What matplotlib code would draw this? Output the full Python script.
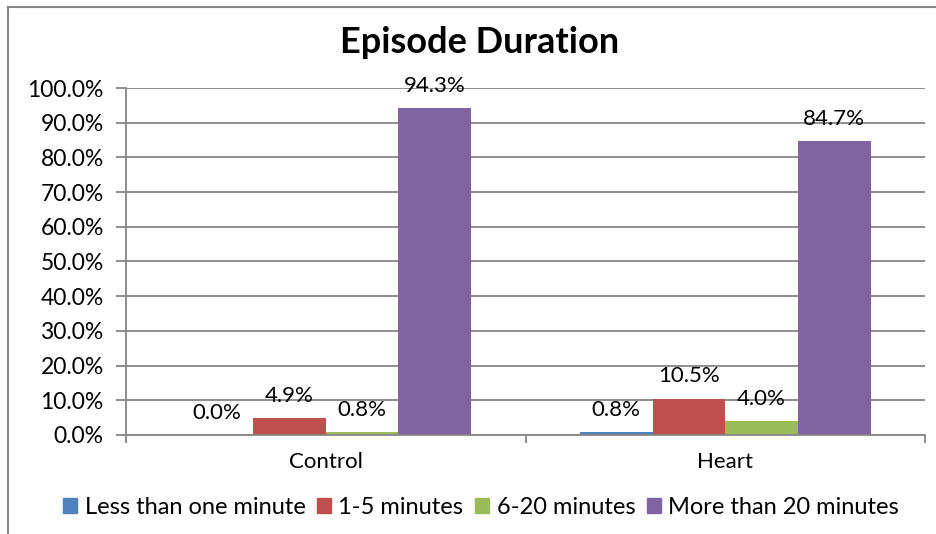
import matplotlib.pyplot as plt
import numpy as np
from matplotlib.lines import Line2D
from matplotlib.patches import Patch

# Episode duration by group, share of episodes (%)
groups = ["Control", "Heart"]
series = ["Less than one minute", "1-5 minutes", "6-20 minutes", "More than 20 minutes"]
less_than_one = [0.0, 0.8]
one_to_five = [4.9, 10.5]
six_to_twenty = [0.8, 4.0]
more_than_twenty = [94.3, 84.7]
colors = ["#4F81BD", "#C0504D", "#9BBB59", "#8064A2"]

plt.rcParams['font.family'] = ['Lato', 'DejaVu Sans']

fig = plt.figure(figsize=(9.36, 5.34), dpi=100)
ax = fig.add_axes([0.1346, 0.1854, 0.8537, 0.6498])

# outer chart frame (top + left, like the cropped Excel screenshot)
fig.add_artist(Line2D([8 / 936, 1.0], [1 - 6.5 / 534, 1 - 6.5 / 534],
                      transform=fig.transFigure, color="#868686", lw=1.5))
fig.add_artist(Line2D([8 / 936, 8 / 936], [0.0, 1 - 6.5 / 534],
                      transform=fig.transFigure, color="#868686", lw=1.5))

x = np.arange(len(groups))
width = 1 / 5.5
values = [less_than_one, one_to_five, six_to_twenty, more_than_twenty]
for i, (vals, name, c) in enumerate(zip(values, series, colors)):
    pos = x + (i - 1.5) * width
    ax.bar(pos, vals, width, color=c, label=name, zorder=3)
    for p, v in zip(pos, vals):
        ax.annotate(f"{v:.1f}%", (p, v), xytext=(0, 16), textcoords="offset points",
                    ha="center", va="center", fontsize=16, zorder=4)

ax.set_xlim(-0.5, 1.5)
ax.set_ylim(0, 100)
ax.set_yticks(np.arange(0, 101, 10))
ax.set_yticklabels([f"{t:.1f}%" for t in np.arange(0, 101, 10)], fontsize=16.5)
ax.yaxis.grid(True, color="#868686", lw=1.3, zorder=0)
ax.set_xticks(x)
ax.set_xticklabels(groups, fontsize=16)
ax.set_xticks([-0.5, 0.5, 1.5], minor=True)
ax.tick_params(axis="x", which="major", length=0, pad=12)
ax.tick_params(axis="x", which="minor", length=6, color="#868686", width=1.3)
ax.tick_params(axis="y", length=7, color="#868686", width=1.3, pad=9)
for s in ["top", "right"]:
    ax.spines[s].set_visible(False)
ax.spines["left"].set_color("#868686")
ax.spines["left"].set_linewidth(1.3)
ax.spines["bottom"].set_color("#868686")
ax.spines["bottom"].set_linewidth(1.3)
ax.spines["bottom"].set_zorder(5)

fig.text(0.512, 0.92, "Episode Duration", ha="center", va="center",
         fontsize=26, fontweight="bold")

handles = [Patch(color=c) for c in colors]
fig.legend(handles, series, loc="center", bbox_to_anchor=(0.514, 0.05), ncol=4,
           frameon=False, fontsize=17, handlelength=0.6, handleheight=0.6,
           handletextpad=0.3, columnspacing=0.5)

fig.savefig("out.png", dpi=100)
